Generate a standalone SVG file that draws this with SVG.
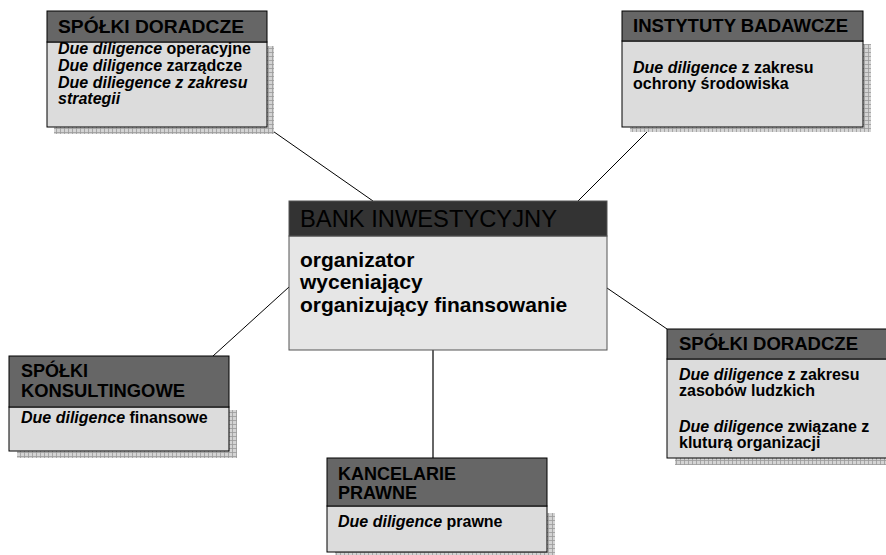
<svg xmlns="http://www.w3.org/2000/svg" width="886" height="555" viewBox="0 0 886 555">
<defs>
<pattern id="grid" width="4" height="4" patternUnits="userSpaceOnUse">
<rect width="4" height="4" fill="#d4d4d4"/>
<path d="M0 0.5H4M0.5 0V4" stroke="#9a9a9a" stroke-width="0.8" fill="none"/>
</pattern>
<style>
.sh{fill:url(#grid)}
.hd{fill:#666666;stroke:#000;stroke-width:1}
.bd{fill:#dcdcdc;stroke:#000;stroke-width:1}
.chd{fill:#333333;stroke:#555;stroke-width:1}
.cbd{fill:#e6e6e6;stroke:#555;stroke-width:1}
.ht{font-family:"Liberation Sans",Arial,sans-serif;font-weight:bold;font-size:18px;fill:#000}
.bt{font-family:"Liberation Sans",Arial,sans-serif;font-weight:bold;font-size:16px;fill:#000}
.ct{font-family:"Liberation Sans",Arial,sans-serif;font-size:23px;fill:#000}
.cb{font-family:"Liberation Sans",Arial,sans-serif;font-weight:bold;font-size:21px;fill:#000}
.i{font-style:italic}
.ln{stroke:#000;stroke-width:1;fill:none}
</style>
</defs>
<rect width="886" height="555" fill="#fff"/>
<g id="connectors">
<line class="ln" x1="267" y1="127" x2="373" y2="201"/>
<line class="ln" x1="652" y1="127" x2="578" y2="201"/>
<line class="ln" x1="213" y1="356" x2="289" y2="287"/>
<line class="ln" x1="607" y1="288" x2="667" y2="329"/>
<line x1="433" y1="350" x2="433" y2="458" stroke="#666" stroke-width="2"/>
</g>
<g id="spolki-doradcze-1">
<rect class="sh" x="54" y="46" width="220" height="88"/>
<rect class="bd" x="47" y="42" width="220" height="85"/>
<rect class="hd" x="47" y="11" width="220" height="31"/>
<text class="ht" x="58" y="33" textLength="186" lengthAdjust="spacingAndGlyphs">SPÓŁKI DORADCZE</text>
<text class="bt" x="58" y="54"><tspan class="i">Due diligence</tspan> operacyjne</text>
<text class="bt" x="58" y="71"><tspan class="i">Due diligence</tspan> zarządcze</text>
<text class="bt i" x="58" y="88">Due diliegence z zakresu</text>
<text class="bt i" x="58" y="104">strategii</text>
</g>
<g id="instytuty-badawcze">
<rect class="sh" x="630" y="44" width="241" height="88"/>
<rect class="bd" x="622" y="41" width="241" height="86"/>
<rect class="hd" x="622" y="11" width="241" height="30"/>
<text class="ht" x="633" y="32" textLength="215" lengthAdjust="spacingAndGlyphs">INSTYTUTY BADAWCZE</text>
<text class="bt" x="633" y="73"><tspan class="i">Due diligence</tspan> z zakresu</text>
<text class="bt" x="633" y="89">ochrony środowiska</text>
</g>
<g id="bank-inwestycyjny">
<rect class="cbd" x="289" y="236" width="318" height="114"/>
<rect class="chd" x="289" y="201" width="318" height="35"/>
<text class="ct" x="300" y="227" textLength="257" lengthAdjust="spacingAndGlyphs">BANK INWESTYCYJNY</text>
<text class="cb" x="300" y="267">organizator</text>
<text class="cb" x="300" y="289">wyceniający</text>
<text class="cb" x="300" y="312">organizujący finansowanie</text>
</g>
<g id="spolki-konsultingowe">
<rect class="sh" x="17" y="410" width="220" height="48"/>
<rect class="bd" x="9" y="407" width="220" height="44"/>
<rect class="hd" x="9" y="356" width="220" height="51"/>
<text class="ht" x="21" y="377">SPÓŁKI</text>
<text class="ht" x="21" y="397" textLength="164" lengthAdjust="spacingAndGlyphs">KONSULTINGOWE</text>
<text class="bt" x="21" y="423"><tspan class="i">Due diligence</tspan> finansowe</text>
</g>
<g id="spolki-doradcze-2">
<rect class="sh" x="675" y="362" width="225" height="103"/>
<rect class="bd" x="667" y="359" width="225" height="99"/>
<rect class="hd" x="667" y="329" width="225" height="30"/>
<text class="ht" x="679" y="350" textLength="179" lengthAdjust="spacingAndGlyphs">SPÓŁKI DORADCZE</text>
<text class="bt" x="679" y="380"><tspan class="i">Due diligence</tspan> z zakresu</text>
<text class="bt" x="679" y="396">zasobów ludzkich</text>
<text class="bt" x="679" y="432"><tspan class="i">Due diligence</tspan> związane z</text>
<text class="bt" x="679" y="448">kluturą organizacji</text>
</g>
<g id="kancelarie-prawne">
<rect class="sh" x="335" y="513" width="220" height="46"/>
<rect class="bd" x="327" y="506" width="220" height="46"/>
<rect class="hd" x="327" y="458" width="220" height="48"/>
<text class="ht" x="338" y="480">KANCELARIE</text>
<text class="ht" x="338" y="499">PRAWNE</text>
<text class="bt" x="338" y="527"><tspan class="i">Due diligence</tspan> prawne</text>
</g>
</svg>
